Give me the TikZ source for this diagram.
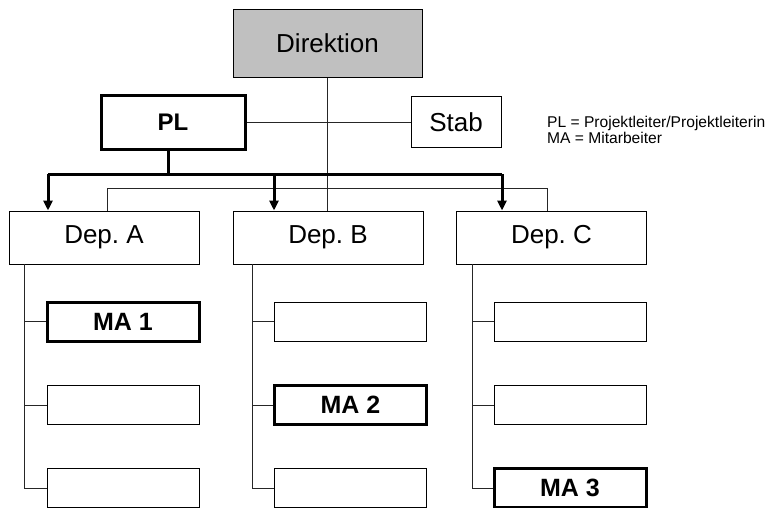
\documentclass[tikz,border=0pt]{standalone}
\usepackage{fontspec}
\setmainfont{Liberation Sans}
\usetikzlibrary{arrows.meta}
\definecolor{headgray}{RGB}{192,192,192}
\frenchspacing
\begin{document}
\begin{tikzpicture}[x=1pt,y=-1pt,
  box/.style={draw=black, line width=1pt, fill=white, inner sep=0pt,
              font=\fontsize{26}{30}\selectfont},
  boldbox/.style={box, line width=3pt, font=\fontsize{25}{28}\selectfont\bfseries},
  depbox/.style={box, minimum width=190pt, minimum height=53pt},
  subbox/.style={box, minimum width=152pt, minimum height=39pt},
  thinline/.style={line width=1pt, draw=black!85},
  thickline/.style={line width=3pt, draw=black},
  arr/.style={thickline, -{Triangle[length=10pt,width=9pt]}},
]
\useasboundingbox (0,0) rectangle (772,507);
\clip (0,0) rectangle (772,507);

% top level
\node[box, fill=headgray, minimum width=189pt, minimum height=68pt] (dir) at (327.5,43) {Direktion};
\node[boldbox, minimum width=144pt, minimum height=54pt, font=\fontsize{24}{28}\selectfont\bfseries] (pl) at (173,122) {PL};
\node[box, minimum width=90pt, minimum height=51pt] (stab) at (456,122) {Stab};

% legend
\node[anchor=west, align=left, inner sep=0pt, font=\fontsize{15.6}{16}\selectfont] (legend) at (547,130)
  {PL = Projektleiter/Projektleiterin\\MA = Mitarbeiter};

% departments
\node[depbox] (depA) at (104,237.5) {Dep. A};
\node[depbox] (depB) at (328,237.5) {Dep. B};
\node[depbox] (depC) at (551.5,237.5) {Dep. C};

% staff boxes
\node[boldbox, minimum width=152pt, minimum height=39pt] (a1) at (123,321.5) {MA 1};
\node[subbox] (a2) at (123,405) {};
\node[subbox] (a3) at (123,488) {};
\node[subbox] (b1) at (350.5,321.5) {};
\node[boldbox, minimum width=152pt, minimum height=39pt] (b2) at (350.5,405) {MA 2};
\node[subbox] (b3) at (350.5,488) {};
\node[subbox] (c1) at (570,321.5) {};
\node[subbox] (c2) at (570,405) {};
\node[boldbox, minimum width=152pt, minimum height=39pt] (c3) at (570,488) {MA 3};

% line of command from the direction
\draw[thinline] (dir.south) -- (dir.south |- depB.north);
\draw[thinline] (pl.east) -- (stab.west);

% thin bus to departments A and C
\coordinate (sbL) at (107,188);
\coordinate (sbR) at (547,188);
\draw[thinline] (sbL |- depA.north) -- (sbL) -- (sbR) -- (sbR |- depC.north);

% project leader bus with arrows
\coordinate (plj) at (168,174);
\coordinate (busL) at (48,174);
\coordinate (busM) at (274,174);
\coordinate (busR) at (502,174);
\draw[thickline] (plj |- pl.south) -- (plj);
\draw[thickline] (busL) -- (busR);
\draw[arr] (busL) -- (busL |- depA.north);
\draw[arr] (busM) -- (busM |- depB.north);
\draw[arr] (busR) -- (busR |- depC.north);

% column spines
\coordinate (colA) at (24,264);
\coordinate (colB) at (252,264);
\coordinate (colC) at (472,264);
\foreach \c/\p in {colA/a, colB/b, colC/c}{
  \draw[thinline] (\c) |- (\p3.west);
  \draw[thinline] (\c |- \p1.west) -- (\p1.west);
  \draw[thinline] (\c |- \p2.west) -- (\p2.west);
}
\end{tikzpicture}
\end{document}
